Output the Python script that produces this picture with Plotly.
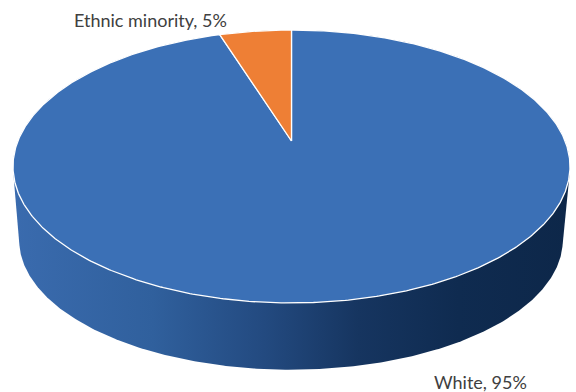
import numpy as np
import plotly.graph_objects as go

# ---- data ----
categories = ["White", "Ethnic minority"]
values = [95, 5]
label_text = ["White, 95%", "Ethnic minority, 5%"]
slice_colors = ["#3b70b6", "#ee7f35"]

W, H = 576, 392

# perspective projection of the pie disk (angles clockwise from 12 o'clock)
TOP = dict(cx=291.5, cy=141.0, a=273.6, b=131.7, k=0.1867)
BOT = dict(cx=291.0, cy=216.0, a=267.0, b=125.0, k=0.1867)


def proj(theta_deg, p, r=1.0):
    t = np.radians(theta_deg)
    px, py = r * np.sin(t), r * np.cos(t)
    d = 1 + p["k"] * py
    return p["cx"] + p["a"] * px / d, p["cy"] - p["b"] * py / d


def hull(xs, ys):
    pts = sorted(set(zip(np.round(xs, 3), np.round(ys, 3))))
    def cross(o, a, b):
        return (a[0]-o[0])*(b[1]-o[1]) - (a[1]-o[1])*(b[0]-o[0])
    lower, upper = [], []
    for pt in pts:
        while len(lower) >= 2 and cross(lower[-2], lower[-1], pt) <= 0:
            lower.pop()
        lower.append(pt)
    for pt in reversed(pts):
        while len(upper) >= 2 and cross(upper[-2], upper[-1], pt) <= 0:
            upper.pop()
        upper.append(pt)
    h = lower[:-1] + upper[:-1]
    h.append(h[0])
    return [q[0] for q in h], [q[1] for q in h]


fig = go.Figure()

# side wall (convex hull of top & bottom rims)
ang = np.linspace(0, 360, 721)
tx, ty = proj(ang, TOP)
bx, by = proj(ang, BOT)
sx, sy = hull(np.concatenate([tx, bx]), np.concatenate([ty, by]))
fig.add_trace(go.Scatter(
    x=sx, y=sy, mode="lines", fill="toself",
    line=dict(width=0, color="rgba(0,0,0,0)"),
    fillgradient=dict(type="horizontal", colorscale=[
        [0.0, "#3a6bae"], [0.25, "#30609d"], [0.45, "#234a80"],
        [0.62, "#163560"], [0.8, "#0f2b50"], [1.0, "#0d2749"]]),
    hoverinfo="skip", showlegend=False))

# top slices
total = sum(values)
start = 0.0
for cat, v, col in zip(categories, values, slice_colors):
    span = 360.0 * v / total
    th = np.linspace(start, start + span, max(int(span * 2), 4))
    ex, ey = proj(th, TOP)
    xs = np.concatenate([[TOP["cx"]], ex, [TOP["cx"]]])
    ys = np.concatenate([[TOP["cy"]], ey, [TOP["cy"]]])
    fig.add_trace(go.Scatter(
        x=xs, y=ys, mode="lines", fill="toself", fillcolor=col,
        line=dict(color="white", width=1.3), name=cat,
        hoverinfo="name", showlegend=False))
    start += span

# labels
fig.add_annotation(x=150, y=20, text=label_text[1], showarrow=False,
                   font=dict(family="Lato, Open Sans, sans-serif", size=18, color="#404040"))
fig.add_annotation(x=480, y=382, text=label_text[0], showarrow=False,
                   font=dict(family="Lato, Open Sans, sans-serif", size=18, color="#404040"))

fig.update_layout(
    width=W, height=H, margin=dict(l=0, r=0, t=0, b=0),
    paper_bgcolor="white", plot_bgcolor="white",
    xaxis=dict(range=[0, W], visible=False, fixedrange=True),
    yaxis=dict(range=[H, 0], visible=False, fixedrange=True),
)
fig.write_html("out.html", config={"displayModeBar": False},
               post_script="document.body.style.margin='0';document.body.style.overflow='hidden';")
